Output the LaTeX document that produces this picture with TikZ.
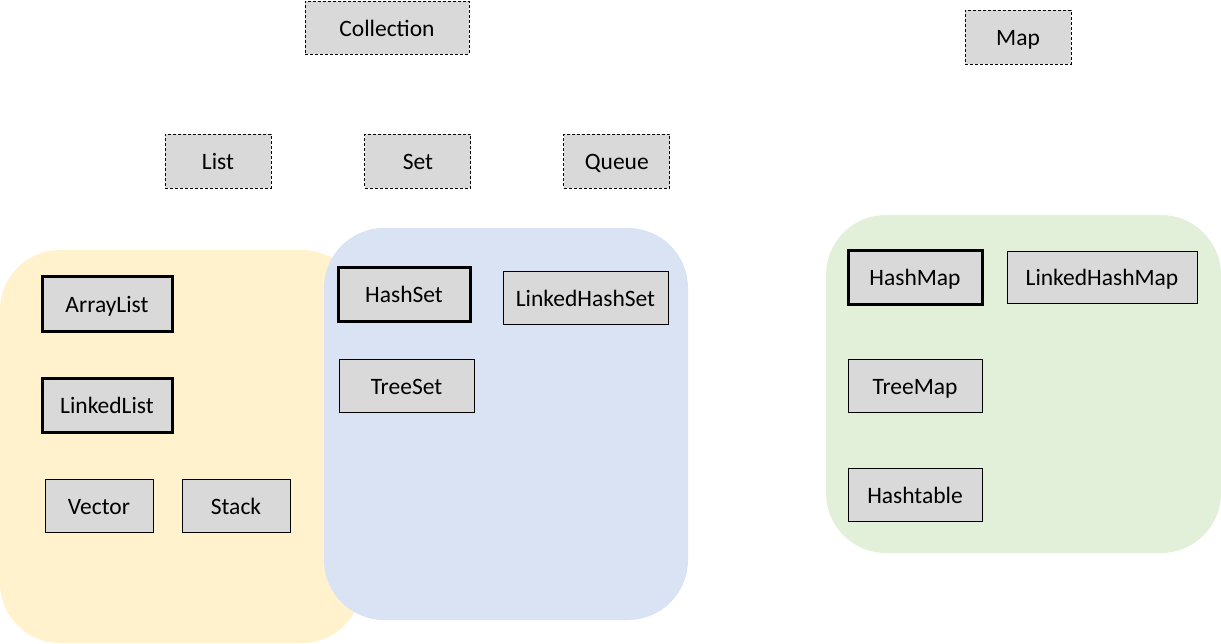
\documentclass[tikz,border=0pt]{standalone}
\usepackage{fontspec}
\setmainfont{Carlito}
\usetikzlibrary{positioning}
\definecolor{listbg}{HTML}{FFF2CC}
\definecolor{setbg}{HTML}{DAE3F3}
\definecolor{mapbg}{HTML}{E2F0D9}
\definecolor{boxgray}{HTML}{D9D9D9}
\tikzset{
  cls/.style={draw, fill=boxgray, line width=1pt, inner sep=0pt, text height=20pt, text depth=3pt, font=\fontsize{23.5}{28}\selectfont},
  iface/.style={cls, line width=0.9pt, dash pattern=on 3pt off 2pt},
  main/.style={cls, line width=3pt},
  group/.style={rounded corners=60pt}
}
\begin{document}
\begin{tikzpicture}[x=1pt, y=-1pt]
\useasboundingbox (0,0) rectangle (1221,643);
\fill[listbg, group] (0,250) rectangle (362,643);
\fill[setbg, group] (324,228) rectangle (688,620);
\fill[mapbg, group] (826,215) rectangle (1221,553);

\node[iface, minimum width=164pt, minimum height=53pt] (coll) at (387,27.5) {Collection};
\node[iface, minimum width=106pt, minimum height=54pt] (map) at (1018,37) {Map};
\node[iface, minimum width=106pt, minimum height=54pt] (list) at (218,161) {List};
\node[iface, minimum width=106pt, minimum height=54pt, right=93pt of list] (set) {Set};
\node[iface, minimum width=106pt, minimum height=54pt, right=92pt of set] (queue) {Queue};

\node[main, minimum width=130pt, minimum height=55pt] (al) at (107,303.5) {ArrayList};
\node[main, minimum width=130pt, minimum height=54pt] (ll) at (107,405) {LinkedList};
\node[cls, minimum width=108pt, minimum height=53pt] (vec) at (99,505.5) {Vector};
\node[cls, minimum width=108pt, minimum height=53pt, right=28pt of vec] (stk) {Stack};

\node[main, minimum width=132pt, minimum height=54pt] (hs) at (404,294) {HashSet};
\node[cls, minimum width=165pt, minimum height=53pt] (lhs) at (585.5,297.5) {LinkedHashSet};
\node[cls, minimum width=135pt, minimum height=53pt] (ts) at (406.5,385.5) {TreeSet};

\node[main, minimum width=134pt, minimum height=54pt] (hm) at (915,277) {HashMap};
\node[cls, minimum width=190pt, minimum height=52pt] (lhm) at (1102,277) {LinkedHashMap};
\node[cls, minimum width=134pt, minimum height=53pt] (tm) at (915,385.5) {TreeMap};
\node[cls, minimum width=134pt, minimum height=53pt] (ht) at (915,494.5) {Hashtable};
\end{tikzpicture}
\end{document}
